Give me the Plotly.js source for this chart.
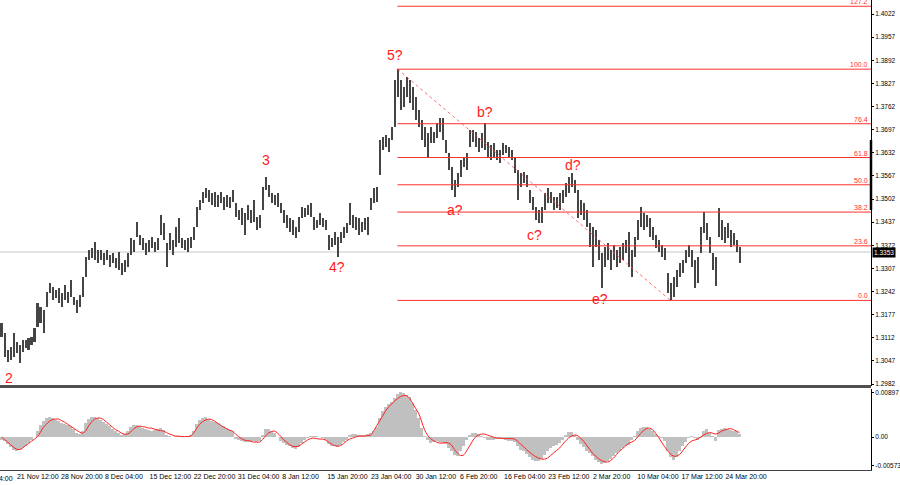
<!DOCTYPE html>
<html>
<head>
<meta charset="utf-8">
<script src="https://cdn.plot.ly/plotly-3.0.1.min.js"></script>
<style>html,body{margin:0;padding:0;background:#fff;}#chart{width:900px;height:485px;}</style>
</head>
<body>
<div id="chart"></div>
<script>
// ---- price bars (H4) ----
const high = [
1.3154,1.3126,1.3078,1.3086,1.3126,1.3100,1.3092,1.3106,1.3106,1.3112,
1.3114,1.3140,1.3210,1.3199,1.3190,1.3240,1.3266,1.3255,1.3246,1.3252,
1.3238,1.3260,1.3240,1.3274,1.3227,1.3218,1.3232,1.3282,1.3339,1.3359,
1.3364,1.3381,1.3359,1.3359,1.3350,1.3359,1.3345,1.3350,1.3336,1.3353,
1.3322,1.3331,1.3350,1.3393,1.3387,1.3437,1.3401,1.3393,1.3378,1.3387,
1.3395,1.3381,1.3393,1.3457,1.3435,1.3378,1.3406,1.3387,1.3423,1.3449,
1.3393,1.3387,1.3393,1.3395,1.3423,1.3479,1.3499,1.3521,1.3533,1.3527,
1.3519,1.3521,1.3513,1.3521,1.3508,1.3513,1.3508,1.3527,1.3491,1.3471,
1.3477,1.3463,1.3485,1.3471,1.3499,1.3452,1.3457,1.3536,1.3564,1.3541,
1.3519,1.3513,1.3519,1.3491,1.3471,1.3457,1.3449,1.3443,1.3423,1.3452,
1.3479,1.3477,1.3485,1.3491,1.3452,1.3443,1.3463,1.3449,1.3443,1.3401,
1.3393,1.3409,1.3395,1.3409,1.3423,1.3435,1.3491,1.3457,1.3452,1.3449,
1.3437,1.3449,1.3452,1.3505,1.3533,1.3536,1.3668,1.3676,1.3682,1.3674,
1.3704,1.3837,1.3867,1.3837,1.3817,1.3845,1.3837,1.3817,1.3789,1.3752,
1.3724,1.3704,1.3688,1.3704,1.3690,1.3716,1.3730,1.3730,1.3668,1.3631,
1.3592,1.3556,1.3575,1.3612,1.3620,1.3631,1.3696,1.3696,1.3690,1.3674,
1.3688,1.3716,1.3662,1.3654,1.3660,1.3640,1.3640,1.3660,1.3654,1.3649,
1.3640,1.3620,1.3584,1.3575,1.3578,1.3570,1.3527,1.3508,1.3479,1.3471,
1.3479,1.3519,1.3533,1.3521,1.3508,1.3508,1.3519,1.3527,1.3547,1.3564,
1.3575,1.3556,1.3527,1.3499,1.3491,1.3471,1.3435,1.3423,1.3415,1.3387,
1.3350,1.3367,1.3378,1.3359,1.3373,1.3359,1.3367,1.3378,1.3387,1.3409,
1.3359,1.3395,1.3443,1.3479,1.3463,1.3457,1.3449,1.3423,1.3401,1.3387,
1.3373,1.3364,1.3294,1.3266,1.3282,1.3302,1.3322,1.3331,1.3359,1.3373,
1.3359,1.3331,1.3339,1.3423,1.3466,1.3435,1.3395,1.3350,1.3339,1.3477,
1.3443,1.3423,1.3435,1.3415,1.3406,1.3387,1.3367];
const low = [
1.3114,1.3058,1.3044,1.3050,1.3058,1.3069,1.3041,1.3072,1.3084,1.3078,
1.3092,1.3100,1.3142,1.3154,1.3126,1.3199,1.3238,1.3218,1.3224,1.3210,
1.3199,1.3218,1.3210,1.3227,1.3204,1.3182,1.3199,1.3227,1.3282,1.3331,
1.3336,1.3331,1.3322,1.3331,1.3317,1.3331,1.3311,1.3322,1.3308,1.3302,
1.3288,1.3297,1.3311,1.3345,1.3353,1.3395,1.3373,1.3359,1.3345,1.3353,
1.3364,1.3353,1.3359,1.3401,1.3387,1.3311,1.3359,1.3345,1.3367,1.3378,
1.3364,1.3359,1.3353,1.3364,1.3387,1.3423,1.3471,1.3491,1.3505,1.3494,
1.3485,1.3479,1.3479,1.3491,1.3471,1.3479,1.3477,1.3494,1.3452,1.3443,
1.3429,1.3401,1.3443,1.3435,1.3437,1.3415,1.3420,1.3471,1.3527,1.3508,
1.3491,1.3485,1.3479,1.3463,1.3435,1.3420,1.3409,1.3401,1.3393,1.3409,
1.3449,1.3452,1.3457,1.3452,1.3415,1.3420,1.3429,1.3423,1.3415,1.3359,
1.3367,1.3373,1.3339,1.3378,1.3393,1.3406,1.3429,1.3420,1.3415,1.3401,
1.3409,1.3415,1.3401,1.3471,1.3491,1.3494,1.3570,1.3640,1.3649,1.3634,
1.3668,1.3704,1.3789,1.3752,1.3761,1.3789,1.3772,1.3752,1.3724,1.3704,
1.3668,1.3649,1.3620,1.3660,1.3660,1.3674,1.3690,1.3668,1.3631,1.3584,
1.3527,1.3508,1.3536,1.3564,1.3592,1.3584,1.3649,1.3662,1.3649,1.3634,
1.3646,1.3640,1.3620,1.3612,1.3620,1.3612,1.3603,1.3626,1.3631,1.3620,
1.3612,1.3575,1.3499,1.3536,1.3547,1.3536,1.3491,1.3471,1.3443,1.3435,
1.3435,1.3471,1.3491,1.3491,1.3471,1.3477,1.3471,1.3491,1.3508,1.3519,
1.3536,1.3519,1.3449,1.3457,1.3443,1.3423,1.3367,1.3311,1.3367,1.3331,
1.3252,1.3311,1.3331,1.3302,1.3331,1.3311,1.3322,1.3331,1.3350,1.3311,
1.3282,1.3339,1.3387,1.3423,1.3415,1.3423,1.3395,1.3387,1.3364,1.3353,
1.3339,1.3331,1.3238,1.3217,1.3227,1.3255,1.3282,1.3294,1.3322,1.3339,
1.3311,1.3252,1.3266,1.3350,1.3406,1.3387,1.3350,1.3302,1.3258,1.3395,
1.3387,1.3378,1.3393,1.3367,1.3373,1.3353,1.3322];
const lastPrice = 1.3353;

// ---- MACD panel ----
const macdHist = [
-0.0005,-0.0008,-0.0014,-0.0020,-0.0025,-0.0027,-0.0026,-0.0022,-0.0017,-0.0012,
-0.0005,0.0000,0.0012,0.0025,0.0033,0.0038,0.0040,0.0038,0.0035,0.0032,
0.0028,0.0026,0.0024,0.0022,0.0017,0.0008,0.0006,0.0012,0.0028,0.0036,
0.0040,0.0040,0.0038,0.0034,0.0030,0.0026,0.0022,0.0017,0.0013,0.0008,
0.0005,0.0006,0.0013,0.0020,0.0024,0.0025,0.0022,0.0018,0.0016,0.0014,
0.0013,0.0014,0.0016,0.0018,0.0015,0.0005,0.0002,0.0001,0.0002,0.0003,
0.0002,0.0001,0.0002,0.0005,0.0012,0.0026,0.0035,0.0038,0.0040,0.0037,
0.0033,0.0030,0.0028,0.0025,0.0022,0.0018,0.0014,0.0012,-0.0003,-0.0006,
-0.0007,-0.0010,-0.0010,-0.0010,-0.0008,-0.0010,-0.0007,0.0005,0.0016,0.0017,
0.0013,0.0008,0.0000,-0.0007,-0.0012,-0.0015,-0.0018,-0.0022,-0.0024,-0.0020,
-0.0012,-0.0005,-0.0002,0.0002,0.0002,0.0002,0.0000,-0.0002,-0.0005,-0.0014,
-0.0017,-0.0018,-0.0019,-0.0015,-0.0010,-0.0005,0.0004,0.0006,0.0007,0.0005,
0.0004,0.0005,0.0006,0.0008,0.0013,0.0020,0.0038,0.0052,0.0060,0.0066,
0.0070,0.0078,0.0087,0.0091,0.0089,0.0085,0.0080,0.0068,0.0055,0.0038,
0.0018,0.0002,-0.0005,-0.0012,-0.0010,-0.0008,-0.0010,-0.0012,-0.0014,-0.0022,
-0.0028,-0.0035,-0.0037,-0.0028,-0.0018,-0.0005,0.0004,0.0008,0.0008,0.0006,
0.0002,-0.0002,-0.0005,-0.0006,-0.0005,-0.0004,-0.0003,-0.0004,-0.0005,-0.0007,
-0.0008,-0.0010,-0.0018,-0.0025,-0.0028,-0.0034,-0.0040,-0.0045,-0.0048,-0.0047,
-0.0043,-0.0035,-0.0027,-0.0022,-0.0018,-0.0015,-0.0012,-0.0005,0.0005,0.0010,
0.0010,0.0005,-0.0005,-0.0014,-0.0020,-0.0027,-0.0032,-0.0038,-0.0045,-0.0050,
-0.0054,-0.0052,-0.0048,-0.0043,-0.0038,-0.0032,-0.0027,-0.0022,-0.0018,-0.0015,
-0.0005,0.0002,0.0012,0.0018,0.0020,0.0020,0.0017,0.0012,0.0006,0.0002,
-0.0002,-0.0008,-0.0027,-0.0040,-0.0045,-0.0040,-0.0028,-0.0018,-0.0010,-0.0002,
0.0002,-0.0002,-0.0005,-0.0002,0.0012,0.0016,0.0008,0.0002,-0.0008,0.0015,
0.0017,0.0018,0.0017,0.0015,0.0013,0.0012,0.0006];
const macdSignal = [
0.0000,-0.0005,-0.0010,-0.0015,-0.0020,-0.0024,-0.0025,-0.0022,-0.0017,-0.0013,
-0.0008,-0.0004,0.0001,0.0010,0.0020,0.0026,0.0032,0.0035,0.0036,0.0036,
0.0033,0.0030,0.0026,0.0022,0.0018,0.0014,0.0010,0.0008,0.0012,0.0022,
0.0030,0.0036,0.0038,0.0038,0.0035,0.0030,0.0025,0.0020,0.0015,0.0012,
0.0008,0.0006,0.0006,0.0010,0.0016,0.0020,0.0022,0.0021,0.0020,0.0018,
0.0018,0.0016,0.0014,0.0013,0.0012,0.0009,0.0006,0.0004,0.0002,0.0002,
0.0001,0.0001,0.0001,0.0002,0.0008,0.0017,0.0025,0.0031,0.0034,0.0036,
0.0035,0.0032,0.0028,0.0024,0.0020,0.0017,0.0014,0.0012,0.0006,0.0001,
-0.0003,-0.0006,-0.0007,-0.0008,-0.0010,-0.0010,-0.0010,-0.0005,0.0002,0.0008,
0.0011,0.0012,0.0008,0.0002,-0.0005,-0.0010,-0.0015,-0.0018,-0.0019,-0.0018,
-0.0014,-0.0010,-0.0006,-0.0003,-0.0002,-0.0003,-0.0004,-0.0004,-0.0006,-0.0010,
-0.0014,-0.0017,-0.0018,-0.0017,-0.0013,-0.0008,-0.0004,-0.0002,0.0000,0.0002,
0.0002,0.0002,0.0003,0.0004,0.0012,0.0022,0.0032,0.0042,0.0052,0.0060,
0.0066,0.0072,0.0077,0.0081,0.0083,0.0083,0.0078,0.0068,0.0058,0.0048,
0.0032,0.0015,0.0004,-0.0003,-0.0007,-0.0010,-0.0012,-0.0012,-0.0011,-0.0012,
-0.0016,-0.0025,-0.0032,-0.0037,-0.0036,-0.0028,-0.0018,-0.0008,0.0000,0.0004,
0.0006,0.0006,0.0004,0.0002,0.0000,-0.0002,-0.0002,-0.0003,-0.0003,-0.0003,
-0.0003,-0.0004,-0.0008,-0.0014,-0.0019,-0.0025,-0.0030,-0.0035,-0.0039,-0.0042,
-0.0044,-0.0044,-0.0042,-0.0037,-0.0032,-0.0027,-0.0022,-0.0015,-0.0008,-0.0002,
0.0002,0.0004,0.0003,-0.0002,-0.0008,-0.0016,-0.0024,-0.0032,-0.0038,-0.0043,
-0.0047,-0.0049,-0.0050,-0.0047,-0.0042,-0.0035,-0.0028,-0.0023,-0.0018,-0.0013,
-0.0010,-0.0007,0.0000,0.0007,0.0013,0.0017,0.0018,0.0015,0.0008,0.0000,
-0.0010,-0.0019,-0.0027,-0.0034,-0.0038,-0.0038,-0.0035,-0.0028,-0.0020,-0.0013,
-0.0008,-0.0006,-0.0004,0.0000,0.0004,0.0007,0.0009,0.0008,0.0006,0.0008,
0.0012,0.0014,0.0016,0.0017,0.0015,0.0012,0.0009];
const macdTicks = [-0.00573, 0, 0.00897];
const macdTickText = ['-0.00573', '0.00', '0.00897'];

// ---- time axis labels ----
const timeLabels = ['21 Nov 12:00','28 Nov 20:00','8 Dec 04:00','15 Dec 12:00','22 Dec 20:00',
  '31 Dec 04:00','8 Jan 12:00','15 Jan 20:00','23 Jan 04:00','30 Jan 12:00','6 Feb 20:00',
  '16 Feb 04:00','23 Feb 12:00','2 Mar 20:00','10 Mar 04:00','17 Mar 12:00','24 Mar 20:00'];
const timeLabelPos = [12.1,26.8,40.8,56.3,71.0,85.7,99.7,115.3,129.9,144.8,159.1,174.4,189.1,203.4,218.8,233.5,248.2];
const firstLabelCut = '14 Nov 04:00';

// ---- wave labels ----
const waveText = ['2','3','4?','5?','a?','b?','c?','d?','e?'];
const waveX = [2.5, 88.3, 111.8, 131.2, 151.2, 161.2, 177.8, 190.5, 199.5];
const waveY = [1.2999, 1.3612, 1.3311, 1.3907, 1.3471, 1.3747, 1.3401, 1.3598, 1.3221];

// ---- Fibonacci levels (%) ----
const fibLevels = [0, 23.6, 38.2, 50, 61.8, 76.4, 100, 127.2];

// ---------------------------------------------------------------
const idx = high.map((_, i) => i);
const xMax = -0.5 + 871 / 3;
const peakIdx = high.indexOf(Math.max(...high));
const after = low.slice(peakIdx);
const troughIdx = peakIdx + after.indexOf(Math.min(...after));
const fHi = high[peakIdx], fLo = low[troughIdx];
const fibPrice = l => fLo + (fHi - fLo) * l / 100;
const FONT = 'Liberation Sans, Arial, sans-serif';

const traces = [
  { type: 'bar', x: idx, base: low, y: high.map((h, i) => h - low[i]), width: 0.67,
    marker: { color: '#454545', line: { width: 0 } }, xaxis: 'x', yaxis: 'y', hoverinfo: 'skip' },
  { type: 'bar', x: idx, y: macdHist, width: 1.0,
    marker: { color: '#c0c0c0', line: { width: 0 } }, xaxis: 'x', yaxis: 'y2', hoverinfo: 'skip' },
  { type: 'scatter', mode: 'lines', x: idx, y: macdSignal, line: { color: '#ff2020', width: 1, shape: 'spline' },
    xaxis: 'x', yaxis: 'y2', hoverinfo: 'skip' }
];

const shapes = [];
shapes.push({ type: 'line', xref: 'paper', yref: 'y', x0: 0, x1: 1, y0: lastPrice, y1: lastPrice,
  line: { color: '#c8c8c8', width: 1 }, layer: 'below' });
fibLevels.forEach(l => shapes.push({ type: 'line', xref: 'x', yref: 'y', x0: peakIdx, x1: xMax,
  y0: fibPrice(l), y1: fibPrice(l), line: { color: '#ff3030', width: 1 } }));
shapes.push({ type: 'line', xref: 'x', yref: 'y', x0: peakIdx, y0: fHi, x1: troughIdx, y1: fLo,
  line: { color: 'rgba(255,70,70,0.8)', width: 1, dash: 'dot' } });
shapes.push({ type: 'rect', xref: 'paper', yref: 'paper', x0: 0, x1: 1, y0: (470 - 388) / 470, y1: (470 - 385) / 470,
  fillcolor: '#505050', line: { width: 0 } });
shapes.push({ type: 'line', xref: 'paper', yref: 'y', x0: 1, x1: 1, y0: 1.3471, y1: 1.3668,
  line: { color: '#000', width: 2.5 } });

const annotations = [];
waveText.forEach((t, i) => annotations.push({ x: waveX[i], y: waveY[i], xref: 'x', yref: 'y', text: t,
  showarrow: false, font: { family: FONT, size: 14, color: '#ff1a1a' } }));
fibLevels.forEach(l => annotations.push({ x: 1, xref: 'paper', y: fibPrice(l), yref: 'y', text: l.toFixed(1),
  xanchor: 'right', yanchor: 'bottom', xshift: -1, yshift: -1, showarrow: false,
  font: { family: FONT, size: 7, color: '#ff3030' } }));
annotations.push({ x: 1, xref: 'paper', y: lastPrice, yref: 'y', text: lastPrice.toFixed(4), xanchor: 'left', xshift: 1,
  showarrow: false, bgcolor: '#000', borderpad: 1, font: { family: FONT, size: 6.5, color: '#fff' } });
annotations.push({ x: 15 / 871, xref: 'paper', y: -8 / 470, yref: 'paper', text: firstLabelCut, xanchor: 'right',
  yanchor: 'middle', showarrow: false, font: { family: FONT, size: 7, color: '#000' } });

const layout = {
  width: 900, height: 485,
  margin: { l: 0, r: 29, t: 0, b: 15, pad: 0 },
  paper_bgcolor: '#fff', plot_bgcolor: '#fff',
  showlegend: false, hovermode: false, barmode: 'overlay', bargap: 0,
  font: { family: FONT, size: 7, color: '#000' },
  xaxis: { domain: [0, 1], range: [-0.5, xMax], anchor: 'y2', showgrid: false, zeroline: false,
    showline: true, linecolor: '#444', linewidth: 1, ticks: '', tickvals: timeLabelPos, ticktext: timeLabels,
    tickfont: { size: 7 }, fixedrange: true },
  yaxis: { domain: [(470 - 386) / 470, 1], range: [1.29764, 1.40614], side: 'right', anchor: 'x',
    showgrid: false, zeroline: false, showline: true, linecolor: '#000', linewidth: 1,
    ticks: 'outside', ticklen: 2, tickcolor: '#000', tick0: 1.2982, dtick: 0.0065, tickformat: '.4f',
    tickfont: { size: 6.5 }, fixedrange: true },
  yaxis2: { domain: [0, (470 - 389) / 470], range: [-0.00659, 0.00963], side: 'right', anchor: 'x',
    showgrid: false, zeroline: false, showline: true, linecolor: '#000', linewidth: 1,
    ticks: 'outside', ticklen: 2, tickcolor: '#000', tickvals: macdTicks, ticktext: macdTickText,
    tickfont: { size: 6.5 }, fixedrange: true },
  shapes: shapes, annotations: annotations
};

Plotly.newPlot('chart', traces, layout, { displayModeBar: false, staticPlot: true });
</script>
</body>
</html>
